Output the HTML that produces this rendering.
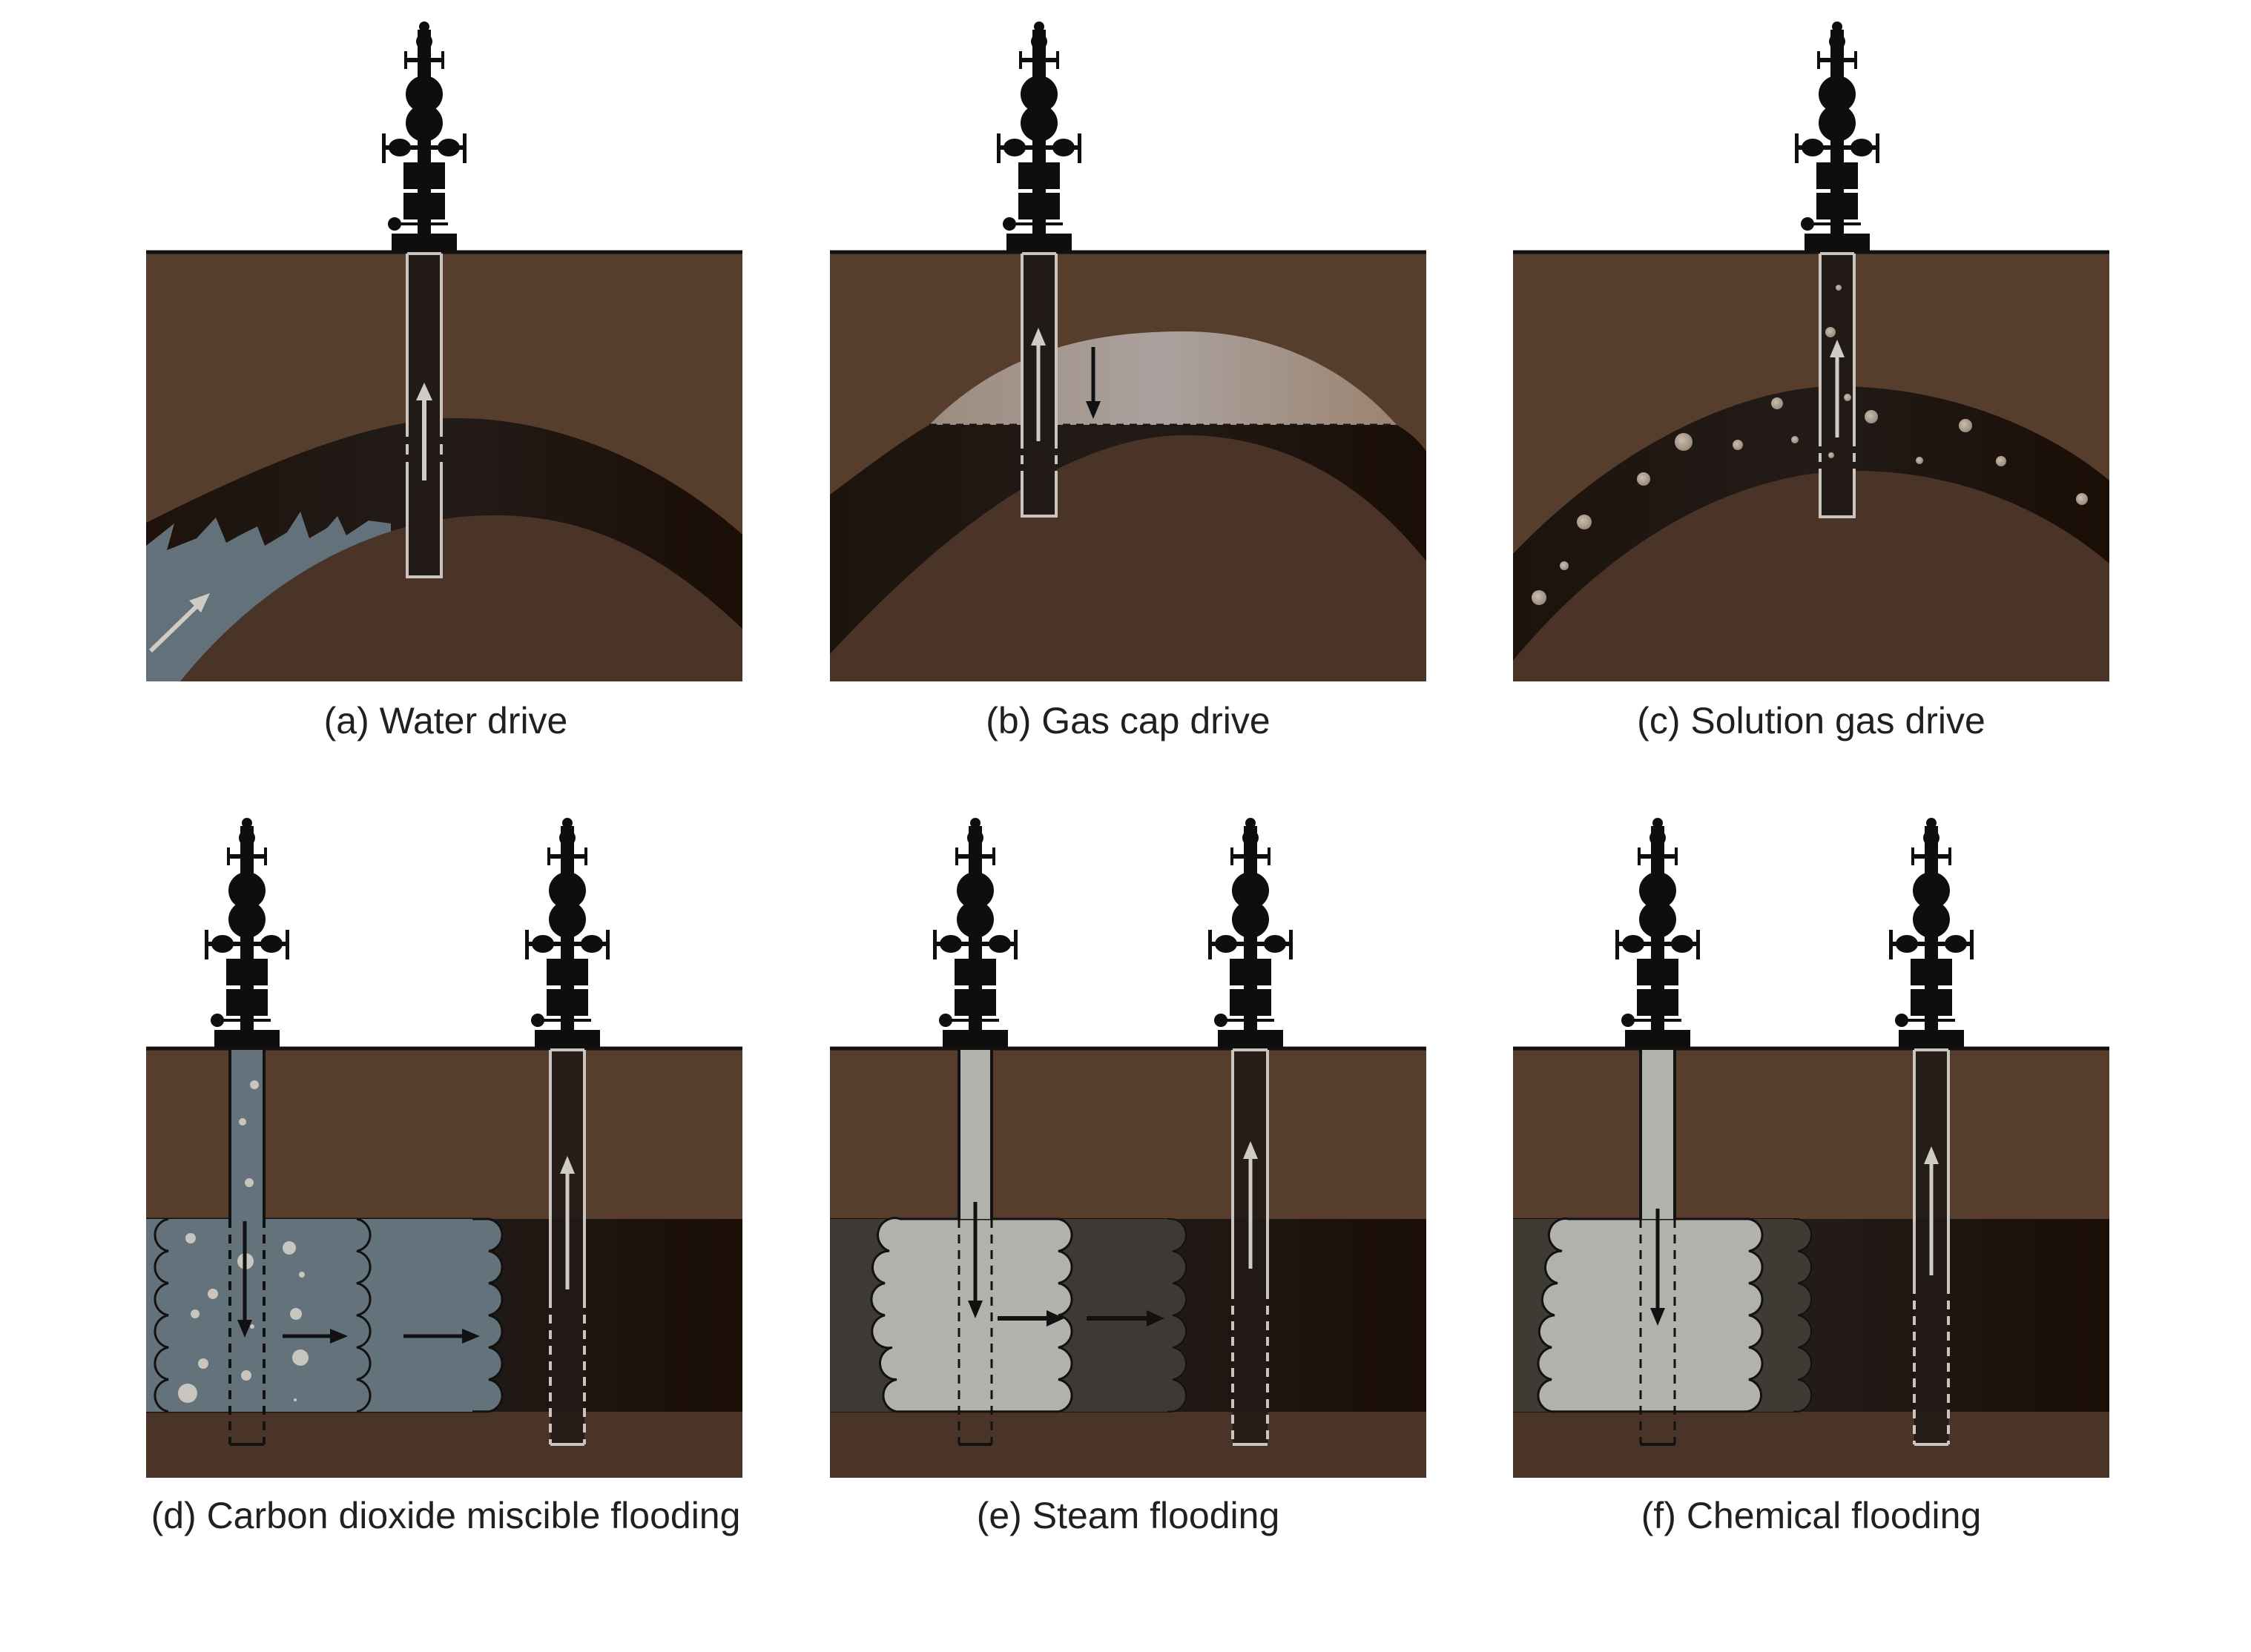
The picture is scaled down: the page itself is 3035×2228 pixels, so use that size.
<!DOCTYPE html>
<html><head><meta charset="utf-8"><style>
html,body{margin:0;padding:0;background:#fff;}
svg{display:block;}
text{font-family:"Liberation Sans",Arial,sans-serif;font-size:50px;fill:#231f20;}
</style></head><body>
<svg width="3035" height="2228" viewBox="0 0 3035 2228" xmlns="http://www.w3.org/2000/svg">
<defs>
  <linearGradient id="oil" x1="0" x2="1" y1="0" y2="0">
    <stop offset="0" stop-color="#1d130c"/><stop offset="0.5" stop-color="#221b18"/><stop offset="1" stop-color="#1a0e05"/>
  </linearGradient>
  <linearGradient id="gas" x1="0" x2="1" y1="0" y2="0">
    <stop offset="0" stop-color="#9c8c7f"/><stop offset="0.5" stop-color="#aba19e"/><stop offset="1" stop-color="#9b8470"/>
  </linearGradient>
  <radialGradient id="bub" cx="0.4" cy="0.4" r="0.6">
    <stop offset="0" stop-color="#c9bdb0"/><stop offset="1" stop-color="#9b8b7c"/>
  </radialGradient>
  <clipPath id="pc"><rect x="0" y="0" width="804" height="579"/></clipPath>
  <g id="wh" fill="#0f0e0d">
    <rect x="-44" y="-25" width="88" height="25"/>
    <rect x="-9" y="-300" width="18" height="280"/>
    <circle cx="-40" cy="-38" r="9"/>
    <rect x="-40" y="-40" width="72" height="4"/>
    <rect x="-28" y="-80" width="56" height="36"/>
    <rect x="-28" y="-121" width="56" height="36"/>
    <rect x="-53" y="-144" width="106" height="6"/>
    <rect x="-57" y="-160" width="5" height="40"/>
    <rect x="52" y="-160" width="5" height="40"/>
    <ellipse cx="-33" cy="-141" rx="15" ry="12"/>
    <ellipse cx="33" cy="-141" rx="15" ry="12"/>
    <circle cx="0" cy="-174" r="25"/>
    <circle cx="0" cy="-213" r="25"/>
    <rect x="-25" y="-262" width="50" height="6"/>
    <rect x="-27" y="-271" width="4" height="24"/>
    <rect x="23" y="-271" width="4" height="24"/>
    <circle cx="0" cy="-284" r="11"/>
    <circle cx="0" cy="-304" r="7"/>
  </g>
</defs>

<!-- (a) -->
<g transform="translate(197,340)">
  <g clip-path="url(#pc)">
    <rect width="804" height="579" fill="#4a3427"/>
    <path d="M0,0 H804 V381 C690,280 550,224 418,224 C300,224 150,290 0,365 Z" fill="#573d2c"/>
    <path d="M0,365 C150,290 300,224 418,224 C550,224 690,280 804,381 L804,508 C690,400 590,355 470,355 C300,355 150,450 46,579 L0,579 Z" fill="url(#oil)"/>
    <clipPath id="bcA"><path d="M0,365 C150,290 300,224 418,224 C550,224 690,280 804,381 L804,508 C690,400 590,355 470,355 C300,355 150,450 46,579 L0,579 Z"/></clipPath>
    <g clip-path="url(#bcA)">
      <path d="M0,396 L38,366 L28,402 L68,386 L94,358 L108,392 L130,380 L150,370 L160,396 L190,378 L208,350 L220,386 L244,372 L258,356 L270,382 L300,362 L330,366 L330,600 L0,600 Z" fill="#63717a"/>
    </g>
    <line x1="6" y1="538" x2="74" y2="472" stroke="#cfccc5" stroke-width="6"/>
    <polygon points="86,460 58,470 74,486" fill="#cfccc5"/>
  </g>
  <line x1="0" y1="0" x2="804" y2="0" stroke="#111" stroke-width="5"/>
  <rect x="352" y="2" width="46" height="436" fill="#211a16"/>
  <path d="M352,2 V235 M398,2 V235 M352,290 V438 H398 V290 M352,2 H398" stroke="#c9c5be" stroke-width="4" fill="none"/>
  <path d="M352,235 V290 M398,235 V290" stroke="#c9c5be" stroke-width="4" stroke-dasharray="14,10"/>
  <line x1="375" y1="308" x2="375" y2="195" stroke="#cfccc5" stroke-width="6"/>
  <polygon points="375,176 364,200 386,200" fill="#cfccc5"/>
  <use href="#wh" x="375" y="0"/>
</g>

<!-- (b) -->
<g transform="translate(1119,340)">
  <g clip-path="url(#pc)">
    <rect width="804" height="579" fill="#4a3427"/>
    <path d="M0,0 H804 V269 C795,255 780,242 764,233 L134,233 C100,252 50,290 0,327 Z" fill="#573d2c"/>
    <path d="M134,233 C240,125 370,107 478,107 C600,107 700,160 764,233 Z" fill="url(#gas)"/>
    <path d="M0,327 C50,290 100,252 134,233 L764,233 C780,242 795,255 804,269 L804,417 C710,300 600,247 478,247 C320,247 150,380 0,542 Z" fill="url(#oil)"/>
    <line x1="134" y1="233" x2="764" y2="233" stroke="#1a1412" stroke-width="3" stroke-dasharray="10,8"/>
  </g>
  <line x1="0" y1="0" x2="804" y2="0" stroke="#111" stroke-width="5"/>
  <rect x="259" y="2" width="46" height="354" fill="#211a16"/>
  <path d="M259,2 V253 M305,2 V253 M259,296 V356 H305 V296 M259,2 H305" stroke="#c9c5be" stroke-width="4" fill="none"/>
  <path d="M259,253 V296 M305,253 V296" stroke="#c9c5be" stroke-width="4" stroke-dasharray="12,9"/>
  <line x1="281" y1="255" x2="281" y2="122" stroke="#cfccc5" stroke-width="5"/>
  <polygon points="281,102 271,126 291,126" fill="#cfccc5"/>
  <line x1="355" y1="128" x2="355" y2="205" stroke="#111" stroke-width="5"/>
  <polygon points="355,225 345,201 365,201" fill="#111"/>
  <use href="#wh" x="282" y="0"/>
</g>

<!-- (c) -->
<g transform="translate(2040,340)">
  <g clip-path="url(#pc)">
    <rect width="804" height="579" fill="#4a3427"/>
    <path d="M0,0 H804 V308 C710,230 575,181 437,181 C320,181 150,250 0,407 Z" fill="#573d2c"/>
    <path d="M0,407 C150,250 320,181 437,181 C575,181 710,230 804,308 L804,420 C710,340 590,295 460,295 C320,295 150,370 0,551 Z" fill="url(#oil)"/>
    <g fill="url(#bub)">
      <circle cx="356" cy="204" r="8"/><circle cx="483" cy="222" r="9"/>
      <circle cx="230" cy="256" r="12"/><circle cx="303" cy="260" r="7"/>
      <circle cx="380" cy="253" r="5"/><circle cx="548" cy="281" r="5"/>
      <circle cx="610" cy="234" r="9"/><circle cx="658" cy="282" r="7"/>
      <circle cx="767" cy="333" r="8"/><circle cx="176" cy="306" r="9"/>
      <circle cx="96" cy="364" r="10"/><circle cx="69" cy="423" r="6"/>
      <circle cx="35" cy="466" r="10"/>
    </g>
  </g>
  <line x1="0" y1="0" x2="804" y2="0" stroke="#111" stroke-width="5"/>
  <rect x="414" y="2" width="46" height="355" fill="#211a16"/>
  <path d="M414,2 V250 M460,2 V250 M414,300 V357 H460 V300 M414,2 H460" stroke="#c9c5be" stroke-width="4" fill="none"/>
  <path d="M414,250 V300 M460,250 V300" stroke="#c9c5be" stroke-width="4" stroke-dasharray="12,9"/>
  <g fill="url(#bub)">
    <circle cx="439" cy="48" r="4"/><circle cx="428" cy="108" r="7"/>
    <circle cx="451" cy="196" r="5"/><circle cx="429" cy="274" r="4"/>
  </g>
  <line x1="437" y1="250" x2="437" y2="138" stroke="#cfccc5" stroke-width="5"/>
  <polygon points="437,118 427,142 447,142" fill="#cfccc5"/>
  <use href="#wh" x="437" y="0"/>
</g>

<text x="601" y="989" text-anchor="middle">(a) Water drive</text>
<text x="1521" y="989" text-anchor="middle">(b) Gas cap drive</text>
<text x="2442" y="989" text-anchor="middle">(c) Solution gas drive</text>

<!-- (d) -->
<g transform="translate(197,1414)">
  <g clip-path="url(#pc)">
    <rect width="804" height="579" fill="#4a3427"/>
    <rect width="804" height="230" fill="#573d2c"/>
    <rect y="230" width="804" height="260" fill="url(#oil)"/>
    <path d="M0,230 H462 a22,22 0 0 1 0,43.3 a22,22 0 0 1 0,43.3 a22,22 0 0 1 0,43.3 a22,22 0 0 1 0,43.3 a22,22 0 0 1 0,43.3 a22,22 0 0 1 0,43.3 H0 Z" fill="#63727b" stroke="#111" stroke-width="3"/>
    <rect x="0" y="230" width="440" height="260" fill="#63727b"/>
    <path d="M30,230 a22,22 0 0 0 0,43.3 a22,22 0 0 0 0,43.3 a22,22 0 0 0 0,43.3 a22,22 0 0 0 0,43.3 a22,22 0 0 0 0,43.3 a22,22 0 0 0 0,43.3" fill="none" stroke="#111" stroke-width="3"/>
    <path d="M284,230 a22,22 0 0 1 0,43.3 a22,22 0 0 1 0,43.3 a22,22 0 0 1 0,43.3 a22,22 0 0 1 0,43.3 a22,22 0 0 1 0,43.3 a22,22 0 0 1 0,43.3" fill="none" stroke="#111" stroke-width="3"/>
    <g fill="#c8c5be">
      <circle cx="60" cy="256" r="7"/><circle cx="193" cy="269" r="9"/><circle cx="134" cy="287" r="11"/>
      <circle cx="210" cy="305" r="4"/><circle cx="90" cy="331" r="7"/><circle cx="66" cy="358" r="6"/>
      <circle cx="202" cy="358" r="8"/><circle cx="143" cy="375" r="3"/><circle cx="208" cy="417" r="11"/>
      <circle cx="77" cy="425" r="7"/><circle cx="135" cy="441" r="7"/><circle cx="56" cy="465" r="13"/>
      <circle cx="201" cy="474" r="2"/>
    </g>
  </g>
  <line x1="0" y1="0" x2="804" y2="0" stroke="#111" stroke-width="5"/>
  <rect x="113" y="2" width="46" height="229" fill="#63727b"/>
  <path d="M113,2 V230 M159,2 V230 M113,534 H159" stroke="#111" stroke-width="4" fill="none"/>
  <path d="M113,230 V534 M159,230 V534" stroke="#111" stroke-width="4" stroke-dasharray="12,9"/>
  <g fill="#c8c5be"><circle cx="146" cy="49" r="6"/><circle cx="130" cy="99" r="5"/><circle cx="139" cy="181" r="6"/></g>
  <line x1="133" y1="233" x2="133" y2="368" stroke="#111" stroke-width="5"/>
  <polygon points="133,390 123,366 143,366" fill="#111"/>
  <line x1="184" y1="388" x2="252" y2="388" stroke="#111" stroke-width="5"/>
  <polygon points="272,388 248,378 248,398" fill="#111"/>
  <line x1="347" y1="388" x2="430" y2="388" stroke="#111" stroke-width="5"/>
  <polygon points="450,388 426,378 426,398" fill="#111"/>
  <rect x="545" y="2" width="46" height="532" fill="#211a16" fill-opacity="0.9"/>
  <path d="M545,2 V338 M591,2 V338 M545,534 H591 M545,2 H591" stroke="#c9c5be" stroke-width="4" fill="none"/>
  <path d="M545,338 V534 M591,338 V534" stroke="#c9c5be" stroke-width="4" stroke-dasharray="12,9"/>
  <line x1="568" y1="325" x2="568" y2="165" stroke="#cfccc5" stroke-width="5"/>
  <polygon points="568,145 558,169 578,169" fill="#cfccc5"/>
  <use href="#wh" x="136" y="0"/>
  <use href="#wh" x="568" y="0"/>
</g>

<!-- (e) -->
<g transform="translate(1119,1414)">
  <g clip-path="url(#pc)">
    <rect width="804" height="579" fill="#4a3427"/>
    <rect width="804" height="230" fill="#573d2c"/>
    <rect y="230" width="804" height="260" fill="url(#oil)"/>
    <path d="M0,230 H462 a22,22 0 0 1 0,43.3 a22,22 0 0 1 0,43.3 a22,22 0 0 1 0,43.3 a22,22 0 0 1 0,43.3 a22,22 0 0 1 0,43.3 a22,22 0 0 1 0,43.3 H0 Z" fill="#3e3934" stroke="#111" stroke-width="2"/>
    <rect x="0" y="230" width="455" height="260" fill="#3e3934"/>
    <path d="M95,230 H308 a22,22 0 0 1 0,43.3 a22,22 0 0 1 0,43.3 a22,22 0 0 1 0,43.3 a22,22 0 0 1 0,43.3 a22,22 0 0 1 0,43.3 a22,22 0 0 1 0,43.3 H90 a22,22 0 0 1 0,-43.3 a22,22 0 0 1 -6,-43.3 a22,22 0 0 1 -10,-43.3 a22,22 0 0 1 0,-43.3 a22,22 0 0 1 6,-43.3 a22,22 0 0 1 15,-43.3 Z" fill="#b2b2ad" stroke="#111" stroke-width="3"/>
  </g>
  <line x1="0" y1="0" x2="804" y2="0" stroke="#111" stroke-width="5"/>
  <rect x="174" y="2" width="44" height="228" fill="#b2b2ad"/>
  <path d="M174,2 V230 M218,2 V230 M174,534 H218" stroke="#111" stroke-width="4" fill="none"/>
  <path d="M174,230 V534 M218,230 V534" stroke="#111" stroke-width="3" stroke-dasharray="12,9"/>
  <line x1="196" y1="207" x2="196" y2="342" stroke="#111" stroke-width="5"/>
  <polygon points="196,364 186,340 206,340" fill="#111"/>
  <line x1="226" y1="364" x2="296" y2="364" stroke="#111" stroke-width="6"/>
  <polygon points="316,364 292,353 292,375" fill="#111"/>
  <line x1="346" y1="364" x2="430" y2="364" stroke="#111" stroke-width="6"/>
  <polygon points="451,364 427,353 427,375" fill="#111"/>
  <rect x="543" y="2" width="47" height="532" fill="#211a16" fill-opacity="0.9"/>
  <path d="M543,2 V326 M590,2 V326 M543,534 H590 M543,2 H590" stroke="#c9c5be" stroke-width="4" fill="none"/>
  <path d="M543,326 V534 M590,326 V534" stroke="#c9c5be" stroke-width="4" stroke-dasharray="12,9"/>
  <line x1="567" y1="297" x2="567" y2="145" stroke="#cfccc5" stroke-width="5"/>
  <polygon points="567,125 557,149 577,149" fill="#cfccc5"/>
  <use href="#wh" x="196" y="0"/>
  <use href="#wh" x="567" y="0"/>
</g>

<!-- (f) -->
<g transform="translate(2040,1414)">
  <g clip-path="url(#pc)">
    <rect width="804" height="579" fill="#4a3427"/>
    <rect width="804" height="230" fill="#573d2c"/>
    <rect y="230" width="804" height="260" fill="url(#oil)"/>
    <path d="M0,230 H384 a22,22 0 0 1 0,43.3 a22,22 0 0 1 0,43.3 a22,22 0 0 1 0,43.3 a22,22 0 0 1 0,43.3 a22,22 0 0 1 0,43.3 a22,22 0 0 1 0,43.3 H0 Z" fill="#403a35" stroke="#111" stroke-width="2"/>
    <rect x="0" y="230" width="378" height="260" fill="#403a35"/>
    <path d="M75,230 H318 a22,22 0 0 1 0,43.3 a22,22 0 0 1 0,43.3 a22,22 0 0 1 0,43.3 a22,22 0 0 1 0,43.3 a22,22 0 0 1 0,43.3 a22,22 0 0 1 -6,43.3 H52 a22,22 0 0 1 0,-43.3 a22,22 0 0 1 0,-43.3 a22,22 0 0 1 4,-43.3 a22,22 0 0 1 4,-43.3 a22,22 0 0 1 6,-43.3 a22,22 0 0 1 9,-43.3 Z" fill="#b2b2ad" stroke="#111" stroke-width="3"/>
  </g>
  <line x1="0" y1="0" x2="804" y2="0" stroke="#111" stroke-width="5"/>
  <rect x="172" y="2" width="46" height="228" fill="#b2b2ad"/>
  <path d="M172,2 V230 M218,2 V230 M172,534 H218" stroke="#111" stroke-width="4" fill="none"/>
  <path d="M172,230 V534 M218,230 V534" stroke="#111" stroke-width="3" stroke-dasharray="12,9"/>
  <line x1="195" y1="216" x2="195" y2="352" stroke="#111" stroke-width="5"/>
  <polygon points="195,374 185,350 205,350" fill="#111"/>
  <rect x="541" y="2" width="46" height="532" fill="#211a16" fill-opacity="0.9"/>
  <path d="M541,2 V319 M587,2 V319 M541,534 H587 M541,2 H587" stroke="#c9c5be" stroke-width="4" fill="none"/>
  <path d="M541,319 V534 M587,319 V534" stroke="#c9c5be" stroke-width="4" stroke-dasharray="12,9"/>
  <line x1="564" y1="306" x2="564" y2="152" stroke="#cfccc5" stroke-width="5"/>
  <polygon points="564,132 554,156 574,156" fill="#cfccc5"/>
  <use href="#wh" x="195" y="0"/>
  <use href="#wh" x="564" y="0"/>
</g>

<text x="601" y="2061" text-anchor="middle">(d) Carbon dioxide miscible flooding</text>
<text x="1521" y="2061" text-anchor="middle">(e) Steam flooding</text>
<text x="2442" y="2061" text-anchor="middle">(f) Chemical flooding</text>
</svg>
</body></html>
